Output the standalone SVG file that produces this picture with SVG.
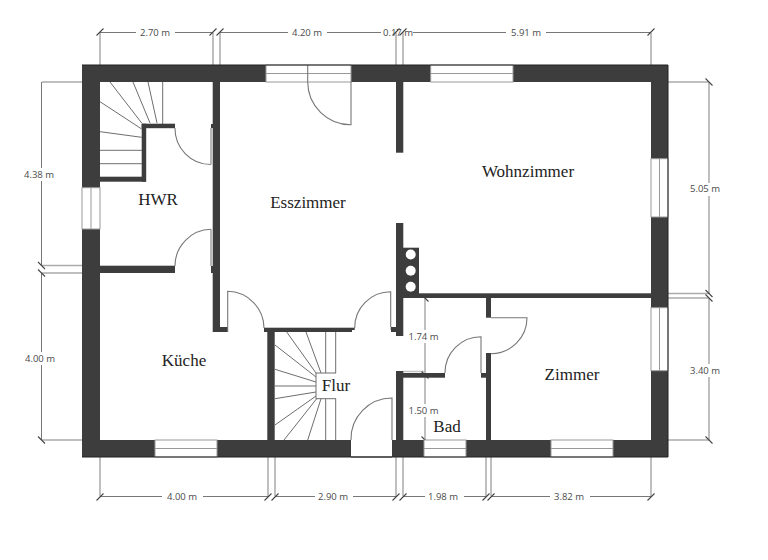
<svg xmlns="http://www.w3.org/2000/svg" xmlns:xlink="http://www.w3.org/1999/xlink" width="768" height="560" viewBox="0 0 768 560">
<style>
.wall{fill:#3d3d3d}
.win{fill:#fff;stroke:#999;stroke-width:1}
.thin{fill:none;stroke:#777;stroke-width:1}
.stair{fill:none;stroke:#6e6e6e;stroke-width:1}
.door{fill:none;stroke:#777;stroke-width:1.1}
.leaf{fill:none;stroke:#a8a8a8;stroke-width:1.6}
.dim{fill:none;stroke:#aaa;stroke-width:1.5}
.tick{fill:none;stroke:#444;stroke-width:1.1}
.lbl{font-family:"Open Sans","Liberation Sans",sans-serif;font-size:9.5px;fill:#4a4a4a;text-anchor:middle}
.room{font-family:"Liberation Serif",serif;font-size:17px;fill:#222;text-anchor:middle}
</style>
<defs>
<path id="th" class="tick" d="M-3.5 3.5L3.5-3.5"/>
<path id="tv" class="tick" d="M-3.5-3.5L3.5 3.5"/>
</defs>
<rect width="768" height="560" fill="#fff"/>
<g id="dimensions">
<path class="dim" d="M100 32.5V65M213 32.5V65M220 32.5V65M396 32.5V65M403 32.5V65M651 32.5V65"/>
<path class="dim" d="M100 457V496.5M268 457V496.5M275 457V496.5M396 457V496.5M403 457V496.5M486 457V496.5M491 457V496.5M651 457V496.5"/>
<path class="dim" d="M42 82H82M42 265.500H82M42 273H82M42 440H82"/>
<path class="dim" d="M668 82H709M668 293.500H709M668 298H709M668 440H709"/>
<path class="thin" d="M100 32.500H136M175 32.500H213M220 32.500H288M327 32.500H381M413 32.500H506M546 32.500H651"/>
<path class="thin" d="M100 496.500H162M203 496.500H268M275 496.500H315M353 496.500H396M403 496.500H425M464 496.500H486M491 496.500H550M590 496.500H651"/>
<path class="thin" d="M41.500 82V168M41.500 181V265.500M41.500 273V352M41.500 365V440"/>
<path class="dim" d="M709 82V183M709 196V293.500M709 298V364M709 377V440"/>
<path class="dim" d="M425 298V330M425 343V404M425 417V440"/>
<path class="dim" d="M403 371.500H425" stroke-opacity=".7"/>
<g>
<use href="#th" x="100" y="32"/><use href="#th" x="213" y="32"/><use href="#th" x="220" y="32"/><use href="#th" x="396" y="32"/><use href="#th" x="403" y="32"/><use href="#th" x="651" y="32"/>
<use href="#th" x="100" y="497"/><use href="#th" x="268" y="497"/><use href="#th" x="275" y="497"/><use href="#th" x="396" y="497"/><use href="#th" x="403" y="497"/><use href="#th" x="486" y="497"/><use href="#th" x="491" y="497"/><use href="#th" x="651" y="497"/>
<use href="#tv" x="41.500" y="265.500"/><use href="#tv" x="41.500" y="273"/><use href="#tv" x="41.500" y="440"/>
<use href="#tv" x="709" y="82"/><use href="#tv" x="709" y="293.500"/><use href="#tv" x="709" y="298"/><use href="#tv" x="709" y="440"/>
<use href="#tv" x="425" y="298"/><use href="#tv" x="425" y="375"/><use href="#tv" x="425" y="440"/>
</g>
<text class="lbl" x="155" y="36">2.70 m</text>
<text class="lbl" x="307" y="36">4.20 m</text>
<text class="lbl" x="398" y="36">0.17 m</text>
<text class="lbl" x="526" y="36">5.91 m</text>
<text class="lbl" x="182" y="500">4.00 m</text>
<text class="lbl" x="333" y="500">2.90 m</text>
<text class="lbl" x="443" y="500">1.98 m</text>
<text class="lbl" x="569" y="500">3.82 m</text>
<text class="lbl" x="39" y="177.500">4.38 m</text>
<text class="lbl" x="40" y="361.500">4.00 m</text>
<text class="lbl" x="705" y="192">5.05 m</text>
<text class="lbl" x="705" y="374">3.40 m</text>
<text class="lbl" x="423.500" y="339.500">1.74 m</text>
<text class="lbl" x="423.500" y="413.500">1.50 m</text>
</g>
<g id="stairs">
<path class="stair" d="M110 82L141.700 123M133 82L150 123M148 82L157 123M162.700 82V124M100 101.700L141.700 129M100 131.700L141.700 137.300M100 150.300H142M100 163.700H142"/>
<path class="stair" d="M286.700 332L316 373M306 332L321 373M325.700 332V373M335.700 332V373M275 345L316 377M275 369.300L316 382M275 386H316M275 398.700L316 392M275 425L316 396M284 440L316.700 398.700M307.700 440L321 398.700M325.700 398.700V440M335.700 398.700V440M336 373H316V398.700H336"/>
</g>
<g id="walls">
<path class="wall" fill-rule="evenodd" d="M82 65H668V457H82ZM100 82V440H651V82Z"/>
<rect class="wall" x="212.700" y="82" width="7.300" height="250"/>
<rect class="wall" x="211" y="124" width="2" height="4"/>
<rect class="wall" x="211" y="266" width="2" height="7"/>
<rect class="wall" x="220" y="327" width="8" height="5"/>
<rect class="wall" x="141.700" y="123.700" width="33.300" height="4.500"/>
<rect class="wall" x="141.700" y="123.700" width="4.500" height="58"/>
<rect class="wall" x="100" y="176.700" width="46" height="5"/>
<rect class="wall" x="100" y="265.700" width="75" height="7.300"/>
<rect class="wall" x="396" y="82" width="7.300" height="70.700"/>
<rect class="wall" x="396" y="223" width="7.300" height="113"/>
<rect class="wall" x="403" y="247.700" width="16" height="50"/>
<rect class="wall" x="390.700" y="327" width="6" height="5"/>
<rect class="wall" x="403" y="293.300" width="248" height="4.700"/>
<rect class="wall" x="486" y="298" width="5" height="19.700"/>
<rect class="wall" x="486" y="353" width="5" height="87"/>
<rect class="wall" x="396" y="371" width="7.300" height="69"/>
<rect class="wall" x="403" y="373" width="42" height="4.700"/>
<rect class="wall" x="481" y="373" width="5" height="4.700"/>
<rect class="wall" x="264" y="327.700" width="90.700" height="4.300"/>
<rect class="wall" x="267.300" y="332" width="7.400" height="108"/>
<g fill="#fff">
<circle cx="410.700" cy="254.500" r="5"/><circle cx="410.700" cy="270.700" r="5"/><circle cx="410.700" cy="286.700" r="5"/>
</g>
</g>
<g id="windows">
<rect class="win" x="266" y="65" width="85" height="17"/><path class="win" d="M266 73.500H351"/>
<rect class="win" x="430.700" y="65" width="82.300" height="17"/><path class="win" d="M430.700 73.500H513"/>
<rect class="win" x="82" y="187.700" width="18" height="41.300"/><path class="win" d="M91 187.700V229"/>
<rect class="win" x="651" y="158.700" width="17" height="58.300"/><path class="win" d="M659.500 158.700V217"/>
<rect class="win" x="651" y="307.700" width="17" height="63"/><path class="win" d="M659.500 307.700V370.700"/>
<rect class="win" x="155" y="440" width="62" height="17"/><path class="win" d="M155 448.500H217"/>
<rect class="win" x="424" y="440" width="42" height="17"/><path class="win" d="M424 448.500H466"/>
<rect class="win" x="551" y="440" width="62" height="17"/><path class="win" d="M551 448.500H613"/>
<rect x="351" y="440" width="41" height="17" fill="#fff"/>
<rect x="352" y="330" width="39" height="3" fill="#fff"/>
</g>
<g id="doors">
<path class="door" d="M307.700 65V82A43 43 0 0 0 351 124.700V82"/>
<path class="door" d="M175 128A36 36 0 0 0 211 164.500"/>
<path class="leaf" d="M211 128V164.500M211 229.300V266"/>
<path class="door" d="M175 266A36.700 36.700 0 0 1 211 229.300"/>
<path class="door" d="M227.700 332V291.300A37 37 0 0 1 264 328"/>
<path class="door" d="M390.700 327V291.700A36 36 0 0 0 354.700 328"/>
<path class="door" d="M392 440V398A41 41 0 0 0 351 440"/>
<path class="door" d="M491 317.700H527A36 36 0 0 1 491 353.700"/>
<path class="door" d="M481 373V336.700A36 36 0 0 0 445 373"/>
<path d="M351 457H392" fill="none" stroke="#333" stroke-width="1"/>
</g>
<g id="outline"><path d="M82 65H668V457H82" fill="none" stroke="#222" stroke-width="1"/></g>
<g id="rooms">
<text class="room" x="158" y="205">HWR</text>
<text class="room" x="308" y="208">Esszimmer</text>
<text class="room" x="528" y="176.500">Wohnzimmer</text>
<text class="room" x="184" y="365.500">Küche</text>
<text class="room" x="336" y="391">Flur</text>
<text class="room" x="572" y="380">Zimmer</text>
<text class="room" x="447" y="431.500">Bad</text>
</g>
</svg>
